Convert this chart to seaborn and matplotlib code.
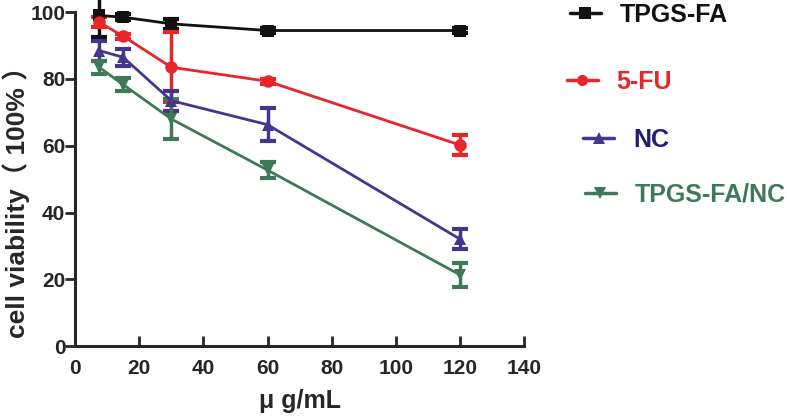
import pandas as pd
import numpy as np
import matplotlib.pyplot as plt
import seaborn as sns

## data ##
dose = [7.5, 15, 30, 60, 120]
series_names = ['TPGS-FA', '5-FU', 'NC', 'TPGS-FA/NC']
tpgs_fa = [99, 98.5, 96.5, 94.5, 94.5]
tpgs_fa_err = [6.5, 0.8, 1.5, 0.8, 0.8]
fu = [97, 92.8, 83.5, 79.3, 60.2]
fu_err = [1.5, 0.8, 10.5, 0.8, 3]
nc = [88.5, 86.5, 73.5, 66.3, 32]
nc_err = [3, 2.5, 3, 5, 3]
tpgs_nc = [83.5, 78.3, 68, 52.7, 21.3]
tpgs_nc_err = [2, 2, 6, 2.5, 3.5]

colors = ['#111111', '#e8262a', '#45358c', '#3f7a58']
text_colors = ['#111111', '#e8262a', '#241b72', '#3f7a58']
markers = ['s', 'o', '^', 'v']

df = pd.DataFrame({
    'dose': dose * 4,
    'viability': tpgs_fa + fu + nc + tpgs_nc,
    'err': tpgs_fa_err + fu_err + nc_err + tpgs_nc_err,
    'group': [n for n in series_names for _ in dose],
})

sns.set_style('ticks')
plt.rcParams['font.family'] = ['Liberation Sans', 'Noto Sans CJK SC']
plt.rcParams['font.weight'] = 'bold'

fig = plt.figure(figsize=(7.87, 4.19), dpi=100)
ax = fig.add_axes([0.0953, 0.174, 0.571, 0.797])

for i, name in enumerate(series_names):
    d = df[df['group'] == name]
    ax.errorbar(d['dose'], d['viability'], yerr=d['err'], fmt='none',
                ecolor=colors[i], elinewidth=2.5, capsize=6, capthick=3,
                zorder=2, clip_on=False)

sns.lineplot(data=df, x='dose', y='viability', hue='group', style='group',
             hue_order=series_names, style_order=series_names,
             palette=colors, markers=markers, dashes=False, markersize=9,
             markeredgewidth=0, linewidth=2, legend=False, ax=ax,
             zorder=3, clip_on=False)

ax.set_xlim(0, 140)
ax.set_ylim(0, 100)
ax.set_xticks(range(0, 141, 20))
ax.set_yticks(range(0, 101, 20))
ax.tick_params(axis='both', labelsize=15, width=2, length=7, direction='out')
ax.tick_params(axis='x', direction='in', pad=9)
ax.tick_params(axis='y', pad=0)
for lab in ax.get_xticklabels() + ax.get_yticklabels():
    lab.set_fontweight('bold')
for s in ['left', 'bottom']:
    ax.spines[s].set_linewidth(2.2)
sns.despine(ax=ax)

ax.set_xlabel('μ g/mL', fontsize=18, fontweight='bold', labelpad=8)
ax.set_ylabel('cell viability（ 100% ）', fontsize=19, fontweight='bold', va='center')
ax.yaxis.set_label_coords(-0.131, 0.45)

## staggered legend entries on the right ##
legend_pos = [(0.724, 0.964), (0.720, 0.804), (0.741, 0.666), (0.743, 0.535)]
for i, name in enumerate(series_names):
    h = plt.Line2D([], [], color=colors[i], marker=markers[i], markersize=8,
                   markeredgewidth=0, linewidth=2.5)
    leg = fig.legend([h], [name], loc='center left', bbox_to_anchor=legend_pos[i],
                     frameon=False, fontsize=18, handlelength=1.25,
                     handletextpad=0.75, borderaxespad=0, borderpad=0)
    for t in leg.get_texts():
        t.set_color(text_colors[i])
        t.set_fontweight('bold')

fig.savefig('out.png', dpi=100)
